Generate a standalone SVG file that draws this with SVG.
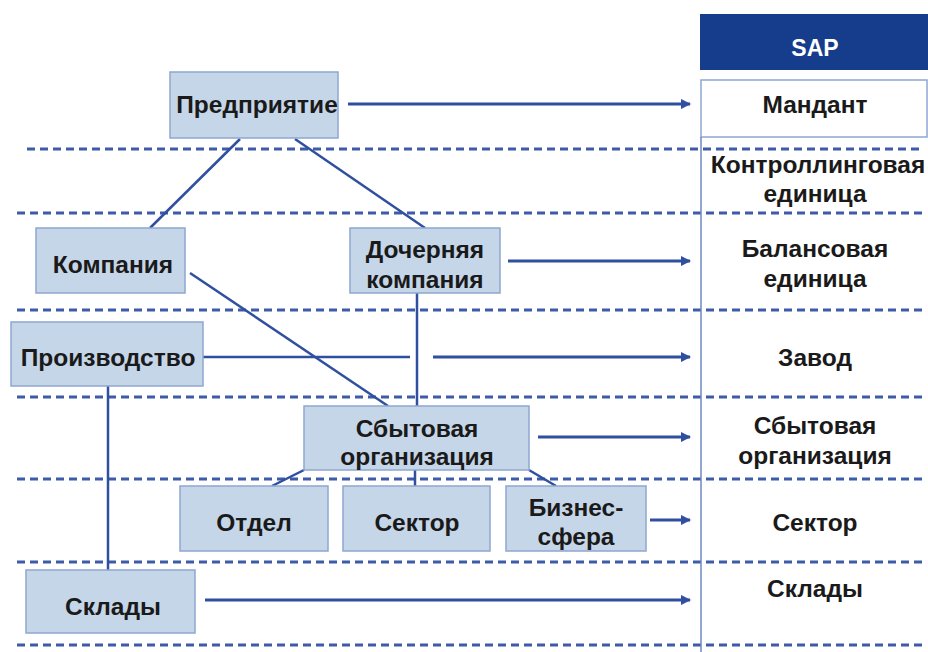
<svg xmlns="http://www.w3.org/2000/svg" width="928" height="652" viewBox="0 0 928 652">
<defs>
<marker id="arr" viewBox="0 0 10 10" refX="9" refY="5" markerWidth="3.5" markerHeight="3.5" markerUnits="strokeWidth" orient="auto">
<path d="M0,0 L10,5 L0,10 z" fill="#2f4f9f"/>
</marker>
<style>
.bx{fill:#c6d6e9;stroke:#8ea7cf;stroke-width:1.5}
.t{font-family:"Liberation Sans",Arial,sans-serif;font-weight:bold;font-size:24.5px;fill:#1a1a1a;text-anchor:middle}
.d{stroke:#3d5ba8;stroke-width:3;stroke-dasharray:8 5;fill:none}
.c{stroke:#2f4f9f;stroke-width:2.5;fill:none}
.a{stroke:#2f4f9f;stroke-width:3;fill:none;marker-end:url(#arr)}
</style>
</defs>
<rect width="928" height="652" fill="#ffffff"/>
<g id="levels">
<line class="d" x1="27" y1="149" x2="924" y2="149"/>
<line class="d" x1="17" y1="213" x2="924" y2="213"/>
<line class="d" x1="17" y1="310" x2="924" y2="310"/>
<line class="d" x1="17" y1="397" x2="924" y2="397"/>
<line class="d" x1="17" y1="479" x2="924" y2="479"/>
<line class="d" x1="17" y1="562" x2="924" y2="562"/>
<line class="d" x1="17" y1="645" x2="924" y2="645"/>
</g>
<g id="sap-column">
<rect x="700" y="14" width="228" height="56" fill="#163c8c"/>
<text x="815" y="56" font-family="Liberation Sans,Arial,sans-serif" font-weight="bold" font-size="23" fill="#ffffff" text-anchor="middle">SAP</text>
<rect x="701" y="80" width="226" height="57" fill="#ffffff" stroke="#8ea7cf" stroke-width="1.5"/>
<line x1="701" y1="137" x2="701" y2="652" stroke="#6f89c0" stroke-width="1.5"/>
<text class="t" x="815" y="113">Мандант</text>
<text class="t" x="818" y="173">Контроллинговая</text>
<text class="t" x="815" y="202">единица</text>
<text class="t" x="815" y="257">Балансовая</text>
<text class="t" x="815" y="287">единица</text>
<text class="t" x="815" y="366">Завод</text>
<text class="t" x="815" y="434">Сбытовая</text>
<text class="t" x="815" y="464">организация</text>
<text class="t" x="815" y="531">Сектор</text>
<text class="t" x="815" y="597">Склады</text>
</g>
<g id="connectors">
<line class="c" x1="240" y1="139" x2="150" y2="228"/>
<line class="c" x1="295" y1="139" x2="425" y2="228"/>
<line class="c" x1="190" y1="273" x2="388" y2="406"/>
<line class="c" x1="417" y1="293" x2="417" y2="406"/>
<line class="c" x1="203" y1="357" x2="410" y2="357"/>
<line class="c" x1="108" y1="386" x2="108" y2="570"/>
<line class="c" x1="304" y1="470" x2="272" y2="486"/>
<line class="c" x1="415" y1="470" x2="415" y2="486"/>
<line class="c" x1="529" y1="470" x2="556" y2="486"/>
<line class="a" x1="348" y1="104" x2="690" y2="104"/>
<line class="a" x1="508" y1="261" x2="690" y2="261"/>
<line class="a" x1="433" y1="357" x2="690" y2="357"/>
<line class="a" x1="538" y1="437" x2="690" y2="437"/>
<line class="a" x1="650" y1="520" x2="690" y2="520"/>
<line class="a" x1="205" y1="600" x2="690" y2="600"/>
</g>
<g id="enterprise"><rect class="bx" x="170" y="72" width="168" height="66"/><text class="t" x="257" y="113">Предприятие</text></g>
<g id="company"><rect class="bx" x="36" y="228" width="149" height="65"/><text class="t" x="113" y="273">Компания</text></g>
<g id="subsidiary"><rect class="bx" x="350" y="228" width="150" height="65"/><text class="t" x="425" y="258">Дочерняя</text><text class="t" x="425" y="288">компания</text></g>
<g id="production"><rect class="bx" x="11" y="322" width="192" height="64"/><text class="t" x="108" y="366">Производство</text></g>
<g id="sales-org"><rect class="bx" x="304" y="406" width="225" height="64"/><text class="t" x="417" y="437">Сбытовая</text><text class="t" x="417" y="465">организация</text></g>
<g id="department"><rect class="bx" x="180" y="486" width="148" height="65"/><text class="t" x="254" y="531">Отдел</text></g>
<g id="sector"><rect class="bx" x="343" y="486" width="147" height="65"/><text class="t" x="417" y="531">Сектор</text></g>
<g id="business-area"><rect class="bx" x="506" y="486" width="140" height="65"/><text class="t" x="576" y="516">Бизнес-</text><text class="t" x="576" y="545">сфера</text></g>
<g id="warehouses"><rect class="bx" x="26" y="570" width="169" height="63"/><text class="t" x="113" y="615">Склады</text></g>
</svg>
